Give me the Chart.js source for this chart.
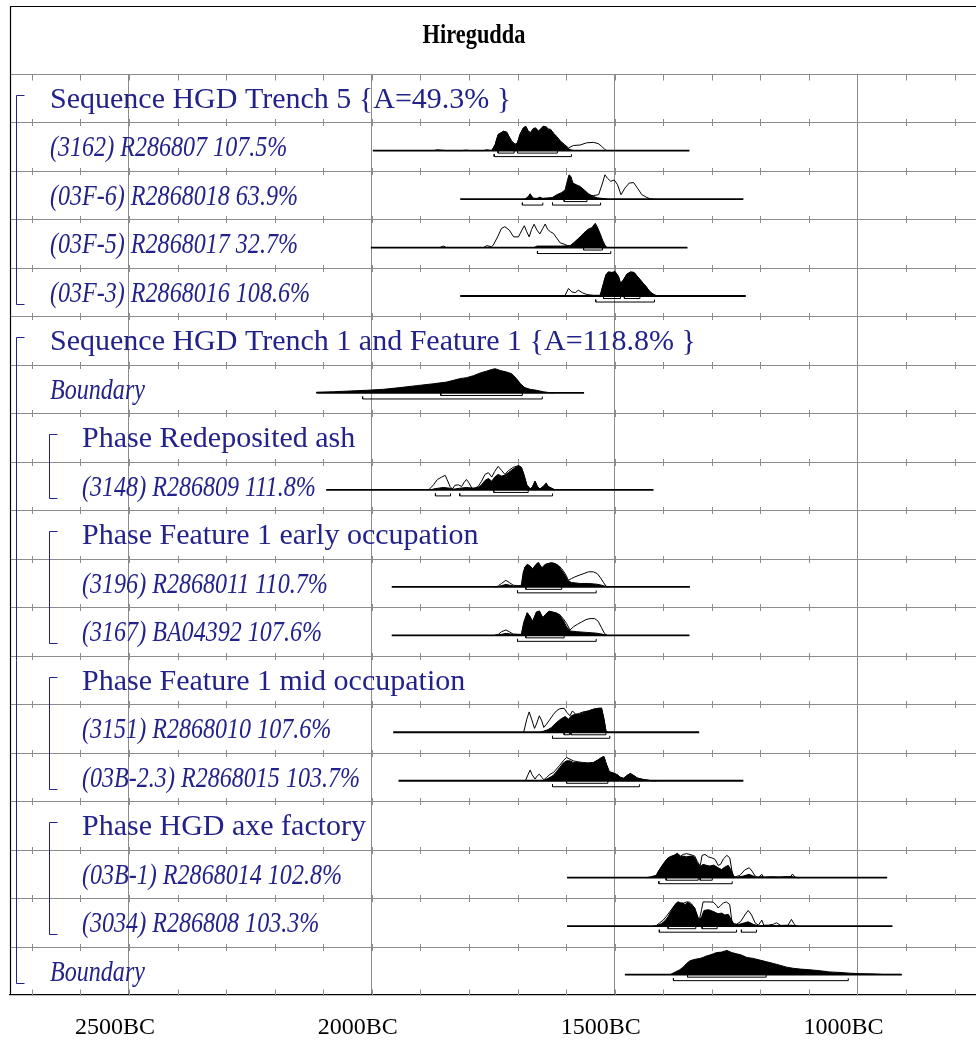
<!DOCTYPE html>
<html>
<head>
<meta charset="utf-8">
<title>Hiregudda</title>
<script src="https://cdn.jsdelivr.net/npm/chart.js@4.4.1/dist/chart.umd.min.js"></script>
<style>
  html, body { margin: 0; padding: 0; background: #fff; overflow: hidden; }
  canvas { display: block; }
</style>
</head>
<body>
<canvas id="plot" width="976" height="1043"></canvas>
<script>
// ---- Labels, one per row, top to bottom ----
const rowLabels = [
  'Sequence HGD Trench 5 {A=49.3% }',
  '(3162) R286807 107.5%',
  '(03F-6) R2868018 63.9%',
  '(03F-5) R2868017 32.7%',
  '(03F-3) R2868016 108.6%',
  'Sequence HGD Trench 1 and Feature 1 {A=118.8% }',
  'Boundary',
  'Phase Redeposited ash',
  '(3148) R286809 111.8%',
  'Phase Feature 1 early occupation',
  '(3196) R2868011 110.7%',
  '(3167) BA04392 107.6%',
  'Phase Feature 1 mid occupation',
  '(3151) R2868010 107.6%',
  '(03B-2.3) R2868015 103.7%',
  'Phase HGD axe factory',
  '(03B-1) R2868014 102.8%',
  '(3034) R286808 103.3%',
  'Boundary'
];
const sequenceGroups = [[0, 4], [5, 18]];
const phaseGroups = [[7, 8], [9, 11], [12, 14], [15, 17]];

// ---- Axis ----
const axisFromBC = 2745;
const axisToBC = 756;
const labelledYearsBC = [2500, 2000, 1500, 1000];

// ---- Distributions: [year BC, relative probability 0-100] ----
// (3162) R286807
const post3162 = [[1872,0],[1866,3],[1858,2],[1846,0],[1814,0],[1806,2],[1798,0],[1770,0],[1764,3],[1756,1],[1753,0],[1746,25],[1740,66],[1729,79],[1722,75],[1718,59],[1712,38],[1705,25],[1700,32],[1695,66],[1688,93],[1683,100],[1678,79],[1673,73],[1668,89],[1663,93],[1657,79],[1652,89],[1647,100],[1641,97],[1637,86],[1632,86],[1626,70],[1619,56],[1612,38],[1604,25],[1597,11],[1592,4],[1585,0]];
const prior3162 = [[1753,0],[1746,25],[1740,66],[1729,80],[1722,76],[1718,60],[1712,39],[1705,26],[1700,33],[1695,67],[1688,94],[1683,100],[1678,80],[1673,75],[1668,90],[1663,94],[1657,81],[1652,90],[1647,100],[1641,99],[1637,89],[1632,88],[1626,72],[1619,58],[1612,40],[1604,26],[1595,11],[1585,21],[1571,23],[1558,32],[1544,34],[1534,29],[1527,18],[1520,4],[1516,0]];
const span3162 = [1998, 1346];
const r68_3162 = [[1740,1707],[1700,1618]];
const r95_3162 = [[1748,1589]];

// (03F-6) R2868018
const post03F6 = [[1684,0],[1678,8],[1674,22],[1670,8],[1667,3],[1660,2],[1654,8],[1648,2],[1640,2],[1630,4],[1619,18],[1609,27],[1602,38],[1597,79],[1594,100],[1590,93],[1586,66],[1579,59],[1571,52],[1563,38],[1554,22],[1544,11],[1536,5],[1527,3],[1516,0]];
const prior03F6 = [[1684,0],[1674,18],[1667,3],[1648,3],[1619,8],[1612,11],[1579,18],[1544,14],[1533,18],[1525,66],[1520,100],[1515,86],[1508,73],[1501,79],[1494,59],[1487,18],[1479,45],[1470,66],[1461,68],[1453,45],[1444,18],[1435,8],[1427,1],[1420,0]];
const span03F6 = [1818, 1235];
const r68_03F6 = [[1604,1557]];
const r95_03F6 = [[1690,1648],[1628,1529]];

// (03F-5) R2868017
const post03F5 = [[1666,0],[1660,6],[1612,6],[1592,7],[1582,24],[1571,44],[1563,61],[1554,76],[1547,82],[1540,100],[1536,86],[1530,58],[1525,31],[1520,10],[1516,0]];
const prior03F5 = [[1860,0],[1853,6],[1846,0],[1770,0],[1763,8],[1754,3],[1750,10],[1741,44],[1733,79],[1726,86],[1717,72],[1708,44],[1698,44],[1691,72],[1686,90],[1681,65],[1676,44],[1671,75],[1666,96],[1660,72],[1654,56],[1648,79],[1643,97],[1638,75],[1632,65],[1626,58],[1619,38],[1612,19],[1604,14],[1597,8],[1585,6],[1540,6],[1516,0]];
const span03F5 = [2002, 1350];
const r68_03F5 = [[1564,1525]];
const r95_03F5 = [[1659,1508]];

// (03F-3) R2868016
const post03F3 = [[1530,0],[1529,3],[1523,52],[1518,87],[1513,99],[1506,97],[1499,100],[1492,80],[1488,52],[1482,66],[1475,90],[1467,99],[1460,97],[1453,80],[1444,59],[1435,38],[1427,17],[1420,7],[1413,0]];
const prior03F3 = [[1605,0],[1602,3],[1595,31],[1588,17],[1581,14],[1575,24],[1566,13],[1557,6],[1544,3],[1530,3],[1523,52],[1518,87],[1513,99],[1506,97],[1499,100],[1492,80],[1488,52],[1482,66],[1475,90],[1467,99],[1460,97],[1453,80],[1444,59],[1435,38],[1427,17],[1420,7],[1413,0]];
const span03F3 = [1818, 1230];
const r68_03F3 = [[1523,1488],[1480,1448]];
const r95_03F3 = [[1539,1418]];

// Boundary (start of Trench 1 sequence)
const postStart = [[2114,0],[2114,3],[2079,5],[2045,8],[2011,11],[1976,15],[1942,22],[1908,30],[1873,38],[1846,45],[1832,52],[1819,59],[1805,63],[1791,71],[1777,82],[1764,90],[1753,97],[1746,100],[1736,93],[1722,86],[1712,79],[1702,59],[1694,38],[1685,22],[1674,15],[1661,11],[1647,5],[1633,1],[1626,0]];
const spanStart = [2114, 1563];
const r68_start = [[1858,1690]];
const r95_start = [[2019,1649]];

// (3148) R286809
const post3148 = [[1878,0],[1873,4],[1853,10],[1839,7],[1832,3],[1819,7],[1805,10],[1791,7],[1781,10],[1774,21],[1767,39],[1760,47],[1753,36],[1747,53],[1740,64],[1733,57],[1726,61],[1719,71],[1709,86],[1698,100],[1692,93],[1687,64],[1681,21],[1674,4],[1669,14],[1664,36],[1659,14],[1654,4],[1647,14],[1641,26],[1637,14],[1630,7],[1623,0]];
const prior3148 = [[1883,0],[1873,21],[1865,43],[1856,53],[1849,60],[1845,43],[1839,14],[1834,3],[1829,19],[1822,21],[1815,14],[1810,31],[1805,43],[1800,29],[1794,7],[1788,7],[1781,14],[1774,36],[1767,64],[1760,71],[1753,53],[1747,76],[1740,97],[1733,81],[1726,64],[1719,79],[1709,93],[1698,100],[1692,93],[1687,64],[1681,21],[1674,4],[1669,14],[1664,36],[1659,14],[1654,4],[1647,14],[1641,29],[1637,14],[1630,7],[1623,0]];
const span3148 = [2094, 1420];
const r68_3148 = [[1749,1678]];
const r95_3148 = [[1869,1838],[1819,1628]];

// (3196) R2868011
const post3196 = [[1747,0],[1740,1],[1724,10],[1709,4],[1692,4],[1688,55],[1685,82],[1680,92],[1674,86],[1669,73],[1662,92],[1657,100],[1650,78],[1643,92],[1637,96],[1630,99],[1623,96],[1616,86],[1609,68],[1602,48],[1597,27],[1589,18],[1571,14],[1554,14],[1537,11],[1527,7],[1518,1],[1513,0]];
const prior3196 = [[1747,0],[1740,3],[1733,14],[1724,27],[1717,18],[1709,7],[1698,4],[1692,7],[1688,62],[1680,92],[1674,86],[1669,75],[1662,92],[1657,100],[1650,78],[1643,92],[1637,96],[1630,99],[1623,96],[1616,89],[1609,75],[1602,55],[1595,27],[1589,34],[1582,41],[1573,48],[1563,55],[1554,62],[1544,62],[1536,55],[1529,37],[1523,18],[1518,3],[1513,0]];
const span3196 = [1959, 1345];
const r68_3196 = [[1683,1609]];
const r95_3196 = [[1700,1538]];

// (3167) BA04392
const post3167 = [[1747,0],[1740,1],[1724,8],[1709,4],[1692,3],[1687,49],[1680,93],[1674,76],[1669,55],[1661,96],[1655,100],[1648,72],[1641,89],[1635,99],[1628,96],[1620,92],[1613,82],[1606,62],[1599,35],[1592,18],[1578,15],[1558,12],[1537,9],[1524,4],[1516,0]];
const prior3167 = [[1747,0],[1740,3],[1733,15],[1724,22],[1717,15],[1709,5],[1692,4],[1687,55],[1680,93],[1674,76],[1669,58],[1661,96],[1655,100],[1648,72],[1641,89],[1635,99],[1628,96],[1620,92],[1613,85],[1606,69],[1599,49],[1592,22],[1585,35],[1577,45],[1568,55],[1559,65],[1551,69],[1541,69],[1534,58],[1527,31],[1521,8],[1516,0]];
const span3167 = [1959, 1346];
const r68_3167 = [[1683,1604]];
const r95_3167 = [[1700,1538]];

// (3151) R2868010
const post3151 = [[1654,0],[1647,4],[1637,11],[1630,20],[1623,34],[1616,47],[1609,57],[1602,65],[1595,54],[1589,68],[1582,74],[1573,74],[1565,81],[1554,88],[1544,95],[1534,99],[1527,100],[1522,54],[1518,7],[1515,0]];
const prior3151 = [[1690,0],[1687,3],[1681,54],[1676,84],[1671,54],[1665,16],[1661,34],[1655,68],[1650,47],[1646,20],[1640,34],[1633,54],[1626,74],[1620,88],[1613,97],[1604,99],[1598,81],[1592,68],[1587,88],[1580,74],[1573,78],[1565,84],[1554,88],[1544,95],[1534,97],[1527,99],[1522,54],[1518,7],[1515,0]];
const span3151 = [1956, 1326];
const r68_3151 = [[1604,1593],[1590,1518]];
const r95_3151 = [[1628,1510]];

// (03B-2.3) R2868015
const post03B23 = [[1648,0],[1644,3],[1633,14],[1626,23],[1620,37],[1613,55],[1606,73],[1599,82],[1592,82],[1585,75],[1575,75],[1565,73],[1554,73],[1544,75],[1534,86],[1527,96],[1522,100],[1517,68],[1511,37],[1503,32],[1495,25],[1488,14],[1482,10],[1475,21],[1468,30],[1462,23],[1453,11],[1441,5],[1427,1],[1414,0]];
const prior03B23 = [[1686,0],[1683,3],[1678,27],[1674,44],[1670,25],[1664,7],[1659,21],[1655,27],[1650,14],[1646,4],[1640,14],[1633,27],[1626,34],[1620,48],[1613,64],[1606,82],[1599,96],[1592,89],[1585,82],[1575,78],[1565,75],[1554,73],[1544,75],[1534,86],[1527,96],[1522,99],[1517,68],[1511,37],[1503,32],[1495,25],[1488,14],[1482,10],[1475,21],[1468,30],[1462,23],[1453,11],[1441,5],[1427,1],[1414,0]];
const span03B23 = [1945, 1235];
const r68_03B23 = [[1599,1514]];
const r95_03B23 = [[1628,1449]];

// (03B-1) R2868014
const post03B1 = [[1434,0],[1427,1],[1415,7],[1410,27],[1403,48],[1396,68],[1390,82],[1383,89],[1378,92],[1371,100],[1364,86],[1359,89],[1352,86],[1345,89],[1339,89],[1335,82],[1330,62],[1324,45],[1318,55],[1311,51],[1304,48],[1296,52],[1287,41],[1280,34],[1273,44],[1266,51],[1259,27],[1254,3],[1249,1],[1235,7],[1223,14],[1215,7],[1208,1],[1197,5],[1191,1],[1136,5],[1129,1],[1119,0]];
const prior03B1 = [[1434,0],[1427,3],[1414,10],[1407,34],[1400,55],[1393,73],[1386,82],[1378,92],[1371,100],[1364,89],[1359,96],[1352,99],[1345,96],[1339,92],[1335,89],[1330,68],[1324,48],[1320,92],[1314,96],[1307,86],[1300,82],[1293,75],[1287,51],[1282,55],[1276,78],[1269,92],[1263,82],[1257,10],[1252,3],[1242,10],[1232,32],[1223,41],[1217,27],[1211,7],[1204,1],[1197,14],[1194,3],[1173,4],[1160,1],[1138,3],[1134,15],[1129,3],[1122,0]];
const span03B1 = [1598, 939];
const r68_03B1 = [[1394,1328],[1324,1299]];
const r95_03B1 = [[1409,1258]];

// (3034) R286808
const post3034 = [[1420,0],[1414,1],[1403,11],[1396,23],[1390,39],[1383,65],[1376,89],[1370,100],[1366,96],[1360,96],[1355,89],[1350,99],[1345,93],[1340,85],[1335,75],[1330,46],[1326,23],[1321,39],[1316,65],[1307,68],[1297,61],[1287,51],[1280,54],[1273,46],[1266,49],[1259,23],[1254,8],[1245,7],[1232,14],[1225,18],[1215,8],[1204,1],[1194,3],[1153,1],[1136,4],[1125,0]];
const prior3034 = [[1420,0],[1414,3],[1407,14],[1400,25],[1393,42],[1386,61],[1379,79],[1372,96],[1368,100],[1362,92],[1357,96],[1352,100],[1346,99],[1342,93],[1337,79],[1331,46],[1326,23],[1321,68],[1318,100],[1311,100],[1304,100],[1297,99],[1290,85],[1287,75],[1282,85],[1276,96],[1270,100],[1263,89],[1259,25],[1256,11],[1249,8],[1241,18],[1232,46],[1225,65],[1218,46],[1211,14],[1204,4],[1197,25],[1193,4],[1184,4],[1173,8],[1167,14],[1158,3],[1143,4],[1136,28],[1131,11],[1127,1],[1122,0]];
const span3034 = [1598, 928];
const r68_3034 = [[1390,1333],[1320,1289]];
const r95_3034 = [[1408,1249],[1239,1208]];

// Boundary (end of Trench 1 sequence)
const postEnd = [[1386,0],[1383,3],[1376,10],[1366,20],[1359,31],[1352,46],[1345,57],[1335,63],[1324,67],[1318,71],[1311,77],[1304,81],[1297,86],[1290,91],[1280,93],[1269,100],[1259,91],[1249,86],[1239,81],[1228,71],[1215,67],[1201,60],[1187,53],[1173,46],[1160,39],[1146,31],[1132,26],[1118,23],[1098,20],[1077,16],[1057,11],[1036,9],[1016,6],[995,4],[968,3],[947,1],[913,1],[909,0]];
const spanEnd = [1479, 909];
const r68_end = [[1350,1188]];
const r95_end = [[1379,1019]];

// Which row each distribution belongs to
const plotted = [
  { row: 1,  post: post3162,  prior: prior3162,  span: span3162,  r68: r68_3162,  r95: r95_3162 },
  { row: 2,  post: post03F6,  prior: prior03F6,  span: span03F6,  r68: r68_03F6,  r95: r95_03F6 },
  { row: 3,  post: post03F5,  prior: prior03F5,  span: span03F5,  r68: r68_03F5,  r95: r95_03F5 },
  { row: 4,  post: post03F3,  prior: prior03F3,  span: span03F3,  r68: r68_03F3,  r95: r95_03F3 },
  { row: 6,  post: postStart, prior: null,       span: spanStart, r68: r68_start, r95: r95_start },
  { row: 8,  post: post3148,  prior: prior3148,  span: span3148,  r68: r68_3148,  r95: r95_3148 },
  { row: 10, post: post3196,  prior: prior3196,  span: span3196,  r68: r68_3196,  r95: r95_3196 },
  { row: 11, post: post3167,  prior: prior3167,  span: span3167,  r68: r68_3167,  r95: r95_3167 },
  { row: 13, post: post3151,  prior: prior3151,  span: span3151,  r68: r68_3151,  r95: r95_3151 },
  { row: 14, post: post03B23, prior: prior03B23, span: span03B23, r68: r68_03B23, r95: r95_03B23 },
  { row: 16, post: post03B1,  prior: prior03B1,  span: span03B1,  r68: r68_03B1,  r95: r95_03B1 },
  { row: 17, post: post3034,  prior: prior3034,  span: span3034,  r68: r68_3034,  r95: r95_3034 },
  { row: 18, post: postEnd,   prior: null,       span: spanEnd,   r68: r68_end,   r95: r95_end }
];

// ---- Geometry in row units (one row = one unit on the y scale) ----
const ROWS = rowLabels.length;
const BASE = 0.58;      // baseline position inside a row
const PEAK = 0.5;       // height of a full-scale peak
const DROP68 = 0.052, DROP95 = 0.124, TICK = 0.05;

const LABEL_BLUE = '#22228a';
const GRID = '#8c8c8c';

function curve(row, pts) {
  return pts.map(([bc, h]) => ({ x: -bc, y: row + BASE - h / 100 * PEAK }));
}
function bracketLine(row, ranges, drop) {
  const y = row + BASE + drop;
  const out = [];
  ranges.forEach(([a, b]) => {
    out.push({ x: -a, y: y - TICK }, { x: -a, y: y }, { x: -b, y: y }, { x: -b, y: y - TICK }, { x: -b, y: null });
  });
  return out;
}

const datasets = [];
plotted.forEach(d => {
  const base = d.row + BASE;
  datasets.push({
    data: [{ x: -d.span[0], y: base }, { x: -d.span[1], y: base }],
    borderColor: '#000', borderWidth: 1.8, fill: false
  });
  datasets.push({
    data: curve(d.row, d.post),
    borderColor: '#000', borderWidth: 1, backgroundColor: '#000',
    fill: { value: base }
  });
  if (d.prior) {
    datasets.push({
      data: curve(d.row, d.prior),
      borderColor: '#000', borderWidth: 1, fill: false
    });
  }
  datasets.push({ data: bracketLine(d.row, d.r68, DROP68), borderColor: '#000', borderWidth: 1, fill: false, spanGaps: false });
  datasets.push({ data: bracketLine(d.row, d.r95, DROP95), borderColor: '#000', borderWidth: 1, fill: false, spanGaps: false });
});

// Row separators, 100-year ticks, labels, group brackets and the frame
const oxcalFrame = {
  id: 'oxcalFrame',
  beforeDatasetsDraw(chart) {
    const { ctx, chartArea: ca, scales: { x, y } } = chart;
    ctx.save();
    ctx.strokeStyle = GRID;
    ctx.lineWidth = 1;
    for (let k = 0; k < ROWS; k++) {
      const py = Math.round(y.getPixelForValue(k)) + 0.5;
      ctx.beginPath();
      ctx.moveTo(ca.left, py);
      ctx.lineTo(ca.right, py);
      ctx.stroke();
    }
    for (let k = 0; k <= ROWS; k++) {
      const py = Math.round(y.getPixelForValue(k)) + 0.5;
      const up = k === 0 ? 0 : (k === ROWS ? 6 : 3.5);
      const down = k === 0 ? 6 : (k === ROWS ? 0 : 3.5);
      for (let yr = Math.ceil(axisToBC / 100) * 100; yr <= axisFromBC; yr += 100) {
        const px = Math.round(x.getPixelForValue(-yr)) + 0.5;
        ctx.beginPath();
        ctx.moveTo(px, py - up);
        ctx.lineTo(px, py + down);
        ctx.stroke();
      }
    }
    ctx.restore();
  },
  afterDraw(chart) {
    const { ctx, chartArea: ca, scales: { y } } = chart;
    const rowTop = k => y.getPixelForValue(k);
    ctx.save();

    // frame
    ctx.strokeStyle = '#000';
    ctx.lineWidth = 1.2;
    ctx.beginPath();
    ctx.moveTo(ca.right, 6.5);
    ctx.lineTo(ca.left + 0.5, 6.5);
    ctx.lineTo(ca.left + 0.5, ca.bottom);
    ctx.stroke();

    // title
    drawText(ctx, 'Hiregudda', 474, 43, 'bold 28px "Liberation Serif"', 0.8, '#000', 'center');

    // row labels
    const inPhase = k => phaseGroups.some(([a, b]) => k >= a && k <= b);
    rowLabels.forEach((txt, k) => {
      const upright = /^(Sequence|Phase)/.test(txt);
      const px = inPhase(k) ? 82 : 50;
      const py = rowTop(k) + 34;
      if (upright) {
        drawText(ctx, txt, px, py, '30px "Liberation Serif"', 1.0, LABEL_BLUE, 'left');
      } else {
        drawText(ctx, txt, px, py, 'italic 29px "Liberation Serif"', 0.83, LABEL_BLUE, 'left');
      }
    });

    // group brackets
    ctx.strokeStyle = LABEL_BLUE;
    ctx.lineWidth = 1;
    const bracket = (a, b, bx) => {
      const t = Math.round(rowTop(a) + 21) + 0.5;
      const bt = Math.round(rowTop(b) + 36) + 0.5;
      ctx.beginPath();
      ctx.moveTo(bx + 8, t);
      ctx.lineTo(bx, t);
      ctx.lineTo(bx, bt);
      ctx.lineTo(bx + 8, bt);
      ctx.stroke();
    };
    sequenceGroups.forEach(([a, b]) => bracket(a, b, 16.5));
    phaseGroups.forEach(([a, b]) => bracket(a, b, 49.5));
    ctx.restore();
  }
};

function drawText(ctx, text, x, y, font, sx, color, align) {
  ctx.save();
  ctx.font = font;
  ctx.fillStyle = color;
  ctx.textBaseline = 'alphabetic';
  ctx.textAlign = align;
  ctx.translate(x, y);
  ctx.scale(sx, 1);
  ctx.fillText(text, 0, 0);
  ctx.restore();
}

new Chart(document.getElementById('plot'), {
  type: 'line',
  data: { datasets },
  plugins: [oxcalFrame],
  options: {
    responsive: false,
    animation: false,
    devicePixelRatio: 1,
    layout: { padding: { top: 74, left: 10, right: 0, bottom: 1 } },
    elements: { point: { radius: 0, hoverRadius: 0 }, line: { tension: 0 } },
    plugins: { legend: { display: false }, tooltip: { enabled: false }, title: { display: false } },
    scales: {
      x: {
        type: 'linear',
        min: -axisFromBC,
        max: -axisToBC,
        afterBuildTicks: axis => {
          axis.ticks = labelledYearsBC.map(v => ({ value: -v }));
        },
        afterFit: axis => { axis.height = 47; },
        ticks: {
          includeBounds: false,
          autoSkip: false,
          maxRotation: 0,
          padding: 18,
          labelOffset: -14,
          color: '#000',
          font: { family: 'Liberation Serif', size: 24 },
          callback: v => Math.abs(v) + 'BC'
        },
        grid: { color: GRID, lineWidth: 1, drawTicks: false },
        border: { display: true, color: '#000', width: 1.2 }
      },
      y: {
        type: 'linear',
        display: false,
        reverse: true,
        min: 0,
        max: ROWS
      }
    }
  }
});
</script>
</body>
</html>
